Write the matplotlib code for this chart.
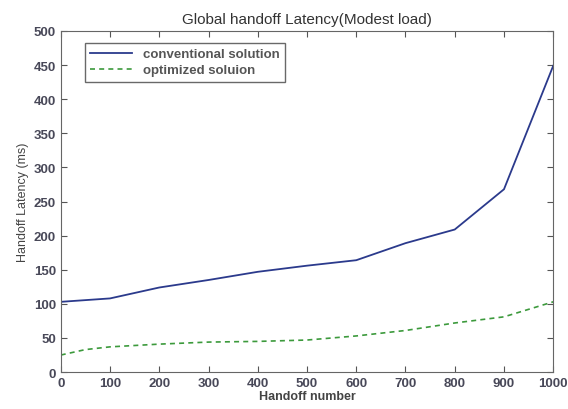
import matplotlib
matplotlib.use("Agg")
import matplotlib.pyplot as plt

x = [0, 100, 200, 300, 400, 500, 600, 700, 800, 900, 1000]
conventional = [103, 108, 124, 135, 147, 156, 164, 189, 209, 268, 449]
x_opt = [0, 50, 100, 200, 300, 400, 500, 600, 700, 800, 900, 1000]
optimized = [25, 33, 37, 41, 44, 45, 47, 53, 61, 72, 81, 103]

plt.rcParams['font.family'] = ['Liberation Sans', 'DejaVu Sans']
fig = plt.figure(figsize=(5.68, 4.10), dpi=100)
ax = fig.add_axes([0.107, 0.090, 0.867, 0.832])
ax.plot(x, conventional, color='#2b3a8c', lw=1.3, label='conventional solution')
ax.plot(x_opt, optimized, color='#3c9a3c', lw=1.2, ls=(0, (3, 2.5)), label='optimized soluion')
ax.set_xlim(0, 1000)
ax.set_ylim(0, 500)
ax.set_xticks(range(0, 1001, 100))
ax.set_yticks(range(0, 501, 50))
ax.tick_params(direction='in', length=4, labelsize=9.5, colors='#555555', labelcolor='#484858', top=True, right=True)
for lab in ax.get_xticklabels() + ax.get_yticklabels():
    lab.set_fontweight('bold')
for s in ax.spines.values():
    s.set_color('#666666')
ax.set_title('Global handoff Latency(Modest load)', fontsize=11, color='#333333', pad=6)
ax.set_xlabel('Handoff number', fontsize=9, fontweight='bold', color='#444444', labelpad=1)
ax.set_ylabel('Handoff Latency (ms)', fontsize=9, color='#444444', labelpad=3)
leg = ax.legend(loc='upper left', bbox_to_anchor=(0.035, 0.985), frameon=True,
                fancybox=False, edgecolor='#444444', handlelength=3.2, borderpad=0.4,
                labelspacing=0.3, prop={'weight': 'bold', 'size': 9.5})
for t in leg.get_texts():
    t.set_color('#555555')
fig.savefig('out.png', dpi=100)
